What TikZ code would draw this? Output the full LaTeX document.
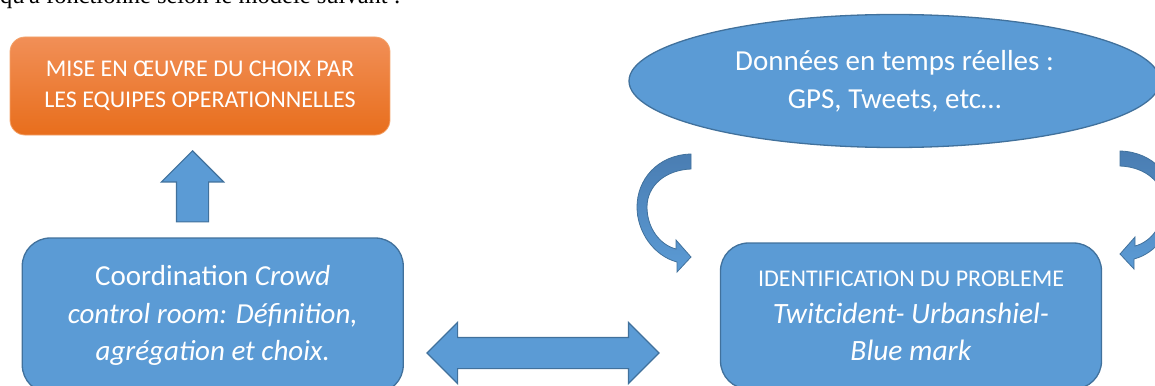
\documentclass[tikz,border=0pt]{standalone}
\usepackage{fontspec}
\setmainfont{Carlito}
\newfontfamily\introfont{Liberation Serif}
\usetikzlibrary{shapes.geometric, shapes.arrows}

\definecolor{bluefill}{HTML}{5B9BD5}
\definecolor{blueline}{HTML}{41719C}
\definecolor{bluedark}{HTML}{4A7DB2}
\definecolor{orangetop}{HTML}{F18F57}
\definecolor{orangebot}{HTML}{E86E1C}
\definecolor{orangeline}{HTML}{F3A36B}

\tikzset{
  bluebox/.style={draw=blueline, line width=1.3pt, fill=bluefill, rounded corners=28pt,
    text=white, align=center, minimum width=381pt, inner sep=0pt},
  orangebox/.style={draw=orangeline, line width=0.8pt, top color=orangetop, bottom color=orangebot,
    rounded corners=15pt, text=white, align=center, minimum width=380pt, minimum height=98pt, inner sep=0pt},
  blockarrow/.style={draw=blueline, line width=1.2pt, fill=bluefill, inner xsep=0pt},
  curvearrow/.style={draw=blueline, line width=0.8pt, top color=bluedark, bottom color=bluefill}
}

\begin{document}
\begin{tikzpicture}[x=1pt, y=-1pt]
\useasboundingbox (0,0) rectangle (1155,385);
\clip (0,0) rectangle (1155,385);
% text of the page, cut by the picture
\node[anchor=base west, inner sep=0pt, font=\introfont\fontsize{24.5}{24.5}\selectfont] (intro) at (0,4) {qu'a fonctionné selon le modèle suivant :};
% boxes
\node[orangebox, font=\fontsize{24}{31.5}\selectfont] (mise) at (200,86) {MISE EN ŒUVRE DU CHOIX PAR\\LES EQUIPES OPERATIONNELLES};
\node[draw=blueline, line width=1.3pt, fill=bluefill, ellipse, minimum width=531pt, minimum height=133pt, inner sep=0pt,
  text=white, align=center, font=\fontsize{29}{38}\selectfont] (donnees) at (894.5,81) {Données en temps réelles :\\GPS, Tweets, etc…};
\node[bluebox, minimum height=155pt, font=\fontsize{29}{37.5}\selectfont] (coord) at (212.75,315.5)
  {Coordination \textit{Crowd}\\\textit{control room: Définition,}\\\textit{agrégation et choix.}};
\node[bluebox, minimum height=146pt, font=\fontsize{29.5}{37}\selectfont] (ident) at (911,316)
  {{\fontsize{24}{37}\selectfont IDENTIFICATION DU PROBLEME}\\\textit{Twitcident- Urbanshiel-}\\\textit{Blue mark}};
% Arrows
\node[blockarrow, single arrow, single arrow head extend=15pt, rotate=90, minimum height=71pt, inner ysep=15.5pt, anchor=tip] (up) at (192.5,150) {};
\node[blockarrow, double arrow, double arrow head extend=15pt, minimum height=232pt, inner ysep=15pt] (both) at (543,353) {};
% curved arrows from the data
\draw[curvearrow] (691,154) .. controls (657,155) and (637,180) .. (637,207)
  .. controls (637,232) and (654,256) .. (677,262) -- (677,272) -- (691,257) -- (676,240) -- (676,249)
  .. controls (660,245) and (647,228) .. (647,207) .. controls (647,186) and (665,170) .. (691,169) -- cycle;
\draw[curvearrow] (1120,151) .. controls (1154,152) and (1174,177) .. (1174,204)
  .. controls (1174,229) and (1157,253) .. (1134,259) -- (1134,269) -- (1120,254) -- (1135,237) -- (1135,246)
  .. controls (1151,242) and (1164,225) .. (1164,204) .. controls (1164,183) and (1146,167) .. (1120,166) -- cycle;
\end{tikzpicture}
\end{document}
